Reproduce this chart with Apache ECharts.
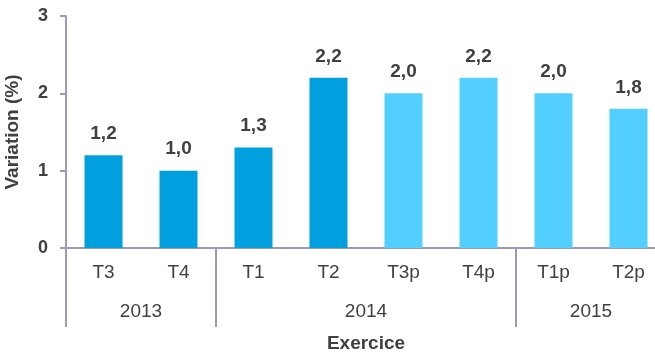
<!DOCTYPE html>
<html>
<head>
<meta charset="utf-8">
<script src="https://cdn.jsdelivr.net/npm/echarts@6/dist/echarts.min.js"></script>
<style>
  html, body { margin: 0; padding: 0; background: #fff; }
  #chart { width: 655px; height: 355px; }
</style>
</head>
<body>
<div id="chart"></div>
<script>
// trimestres et valeurs (variation en %)
var quarters = ['T3', 'T4', 'T1', 'T2', 'T3p', 'T4p', 'T1p', 'T2p'];
var values = [1.2, 1.0, 1.3, 2.2, 2.0, 2.2, 2.0, 1.8];
var projected = [false, false, false, false, true, true, true, true];
var years = ['2013', '2014', '2015'];
var yearSpans = [2, 4, 2];
var yTicks = [0, 1, 2, 3];

var axisColor = '#9a9abb';
var textColor = '#404040';
var font = 'Liberation Sans';

// bornes des années sur l'axe des trimestres
var yearBounds = [0], yearMids = [];
yearSpans.forEach(function (s, i) {
    var start = yearBounds[i];
    yearBounds.push(start + s);
    yearMids.push(start + s / 2);
});

var chart = echarts.init(document.getElementById('chart'));
chart.setOption({
    animation: false,
    grid: { left: 66, top: 16, width: 600, bottom: 107, outerBoundsMode: 'none', containLabel: false },
    xAxis: [
        {
            type: 'category',
            data: quarters,
            boundaryGap: true,
            axisLine: { lineStyle: { color: axisColor, width: 2 } },
            axisTick: { interval: 0, length: 40, lineStyle: { color: axisColor, width: 2 } },
            axisLabel: { interval: 0, color: textColor, fontSize: 19, margin: 15, fontFamily: font }
        },
        {
            type: 'value',
            position: 'bottom',
            min: 0,
            max: quarters.length,
            splitLine: { show: false },
            axisLine: { show: false },
            axisTick: { customValues: yearBounds, length: 79, lineStyle: { color: axisColor, width: 2 } },
            axisLabel: {
                customValues: yearMids,
                margin: 54,
                color: textColor,
                fontSize: 19,
                fontFamily: font,
                formatter: function (v) { return years[yearMids.indexOf(v)]; }
            },
            name: 'Exercice',
            nameLocation: 'middle',
            nameGap: 86,
            nameTextStyle: { color: textColor, fontSize: 19, fontWeight: 'bold', fontFamily: font }
        }
    ],
    yAxis: {
        type: 'value',
        min: yTicks[0],
        max: yTicks[yTicks.length - 1],
        interval: yTicks[1] - yTicks[0],
        name: 'Variation (%)',
        nameLocation: 'middle',
        nameGap: 44,
        nameTextStyle: { color: textColor, fontSize: 19, fontWeight: 'bold', fontFamily: font },
        splitLine: { show: false },
        axisLine: { show: true, lineStyle: { color: axisColor, width: 2 } },
        axisTick: { show: true, length: 6, lineStyle: { color: axisColor, width: 2 } },
        axisLabel: {
            margin: 18,
            color: textColor,
            fontSize: 18,
            fontWeight: 'bold',
            fontFamily: font,
            customValues: yTicks
        }
    },
    series: [{
        type: 'bar',
        xAxisIndex: 0,
        barWidth: 38,
        data: values.map(function (v, i) {
            return { value: v, itemStyle: { color: projected[i] ? '#52CFFF' : '#00A0DF' } };
        }),
        label: {
            show: true,
            position: 'top',
            distance: 12,
            color: textColor,
            fontSize: 19,
            fontWeight: 'bold',
            fontFamily: font,
            formatter: function (p) { return p.value.toFixed(1).replace('.', ','); }
        }
    }]
});
</script>
</body>
</html>
